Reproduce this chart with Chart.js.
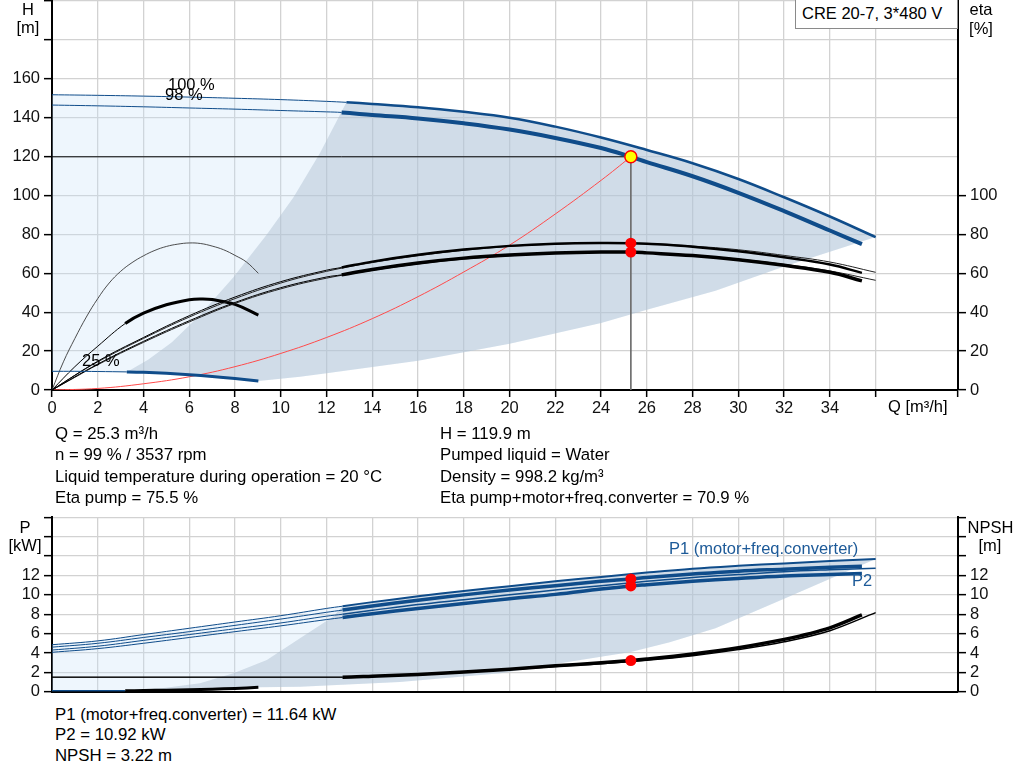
<!DOCTYPE html>
<html lang="en">
<head>
<meta charset="utf-8">
<title>CRE 20-7 pump curves</title>
<script src="https://cdn.jsdelivr.net/npm/chart.js@4.4.1/dist/chart.umd.min.js"></script>
<style>
  html, body { margin: 0; padding: 0; background: #fff; }
  body { width: 1024px; height: 781px; position: relative; overflow: hidden;
         font-family: 'Liberation Sans', Arial, Helvetica, sans-serif; color: #000; }
  canvas { position: absolute; left: 0; }
  #headChart { top: 0; }
  #powerChart { top: 505px; }
  .t { position: absolute; white-space: nowrap; line-height: 1; font-size: 16.5px; }
  .c { transform: translateX(-50%); }
  .blue { color: #1d5a98; }
  .info { position: absolute; font-size: 16.8px; white-space: nowrap; }
  #legend { position: absolute; left: 795px; top: -1px; width: 163px; height: 30px;
            border: 1px solid #8a8a8a; background: #fff; box-sizing: border-box; }
</style>
</head>
<body>
<canvas id="headChart" width="1024" height="420"></canvas>
<canvas id="powerChart" width="1024" height="200"></canvas>

<div id="legend"></div>
<div class="t" style="left:802px; top:5px;">CRE 20-7, 3*480 V</div>

<div class="t c" style="left:28px; top:1px;">H</div>
<div class="t c" style="left:28px; top:19px;">[m]</div>
<div class="t c" style="left:981px; top:1px;">eta</div>
<div class="t c" style="left:981px; top:19.5px;">[%]</div>
<div class="t" style="left:888px; top:398px;">Q [m³/h]</div>
<div class="t" style="left:168px; top:75.5px;">100 %</div>
<div class="t" style="left:165px; top:85.5px;">98 %</div>
<div class="t" style="left:82px; top:352px;">25 %</div>

<div class="info" style="left:55px; top:422.7px; line-height:21.5px;">
  Q = 25.3 m³/h<br>n = 99 % / 3537 rpm<br>Liquid temperature during operation = 20 °C<br>Eta pump = 75.5 %
</div>
<div class="info" style="left:440px; top:422.7px; line-height:21.5px;">
  H = 119.9 m<br>Pumped liquid = Water<br>Density = 998.2 kg/m³<br>Eta pump+motor+freq.converter = 70.9 %
</div>

<div class="t c" style="left:25px; top:518.7px;">P</div>
<div class="t c" style="left:25px; top:537px;">[kW]</div>
<div class="t c" style="left:990.5px; top:518.7px;">NPSH</div>
<div class="t c" style="left:990px; top:537px;">[m]</div>
<div class="t blue" style="left:669px; top:539.5px;">P1 (motor+freq.converter)</div>
<div class="t blue" style="left:852px; top:571.5px;">P2</div>

<div class="info" style="left:55px; top:704.5px; line-height:20.8px;">
  P1 (motor+freq.converter) = 11.64 kW<br>P2 = 10.92 kW<br>NPSH = 3.22 m
</div>

<script>
const Q_MAX = 39.6;
const GRID = '#d2d2d2';
const BLUE = '#0f4c8a';
const LIGHT = 'rgba(200, 225, 250, 0.3)';
const DARK = 'rgba(171, 188, 206, 0.45)';
const FONT_FAMILY = "'Liberation Sans', Arial, Helvetica, sans-serif";

// ---- head chart: H [m] and eta [%] over Q [m³/h] ----
const qhMaxQ = [0, 2, 4, 6, 8, 10, 12, 12.87, 14, 16, 18, 20, 22, 24, 26, 28, 30, 32, 34, 36];
const qhMaxH = [151.8, 151.5, 151.1, 150.6, 150.0, 149.3, 148.4, 147.9, 147.1, 145.4, 143.0, 140.0, 135.4, 129.8, 123.4, 116.6, 108.5, 99.1, 89.2, 78.6];
const qhOpQ = [0, 2, 4, 6, 8, 10, 12, 12.66, 14, 16, 18, 20, 22, 24, 25.3, 26, 28, 30, 32, 34, 35.4];
const qhOpH = [146.5, 146.1, 145.6, 145.0, 144.4, 143.7, 143.0, 142.7, 141.4, 139.6, 137.1, 133.9, 129.6, 124.4, 119.9, 117.2, 109.9, 101.4, 92.0, 82.0, 75.0];
const qhMinQ = [0, 1, 2, 3.27, 4, 5, 6, 7, 8, 9.02];
const qhMinH = [9.6, 9.6, 9.5, 9.3, 9.1, 8.6, 7.9, 7.0, 5.9, 4.6];

// operating-range edges
const minFlowQ = [3.27, 4.2, 5.24, 6.47, 7.93, 9.39, 10.55, 11.72, 12.87];
const minFlowH = [9.3, 15.5, 24.6, 38.5, 58, 80, 99, 122, 147.9];
const maxEdgeQ = [9.02, 10.84, 12, 16, 20, 24, 26, 29, 32, 36];
const maxEdgeH = [4.6, 6.8, 8.6, 15, 23.8, 34.4, 41.2, 51, 63.5, 78.6];

const sysQ = [0, 2, 4, 6, 8, 10, 12, 14, 16, 18, 20, 22, 24, 25.3];
const sysH = [0, 0.8, 3.2, 6.8, 12, 18.8, 27, 36.7, 48, 60.7, 74.5, 90.5, 107.8, 119.9];

const etaMaxQ = [0, 1, 2, 4, 6, 8, 10, 12, 14, 16, 18, 20, 22, 24, 26, 28, 30, 32, 34, 36];
const etaPumpMax = [0, 7.5, 14.5, 26.5, 37.5, 47, 55, 61, 65.5, 69, 71.8, 73.8, 75, 75.6, 75.3, 74, 72.1, 69.2, 65.8, 60.5];
const etaTotalMax = [0, 6.5, 13, 24.5, 35, 44.5, 52, 57.5, 61.5, 64.8, 67.3, 69, 70.2, 70.8, 70.5, 69.3, 67.3, 64.6, 61.2, 56.4];
const etaOpQ = [0, 2, 4, 6, 8, 10, 12, 12.66, 14, 16, 18, 20, 22, 24, 25.3, 26, 28, 30, 32, 34, 35.4];
const etaPumpOp = [0, 14.8, 27, 38.2, 47.8, 55.7, 61.6, 63.0, 66, 69.5, 72.2, 74.1, 75.2, 75.6, 75.5, 75.2, 73.7, 71.3, 68.2, 64.5, 60.2];
const etaTotalOp = [0, 13.3, 25, 35.6, 45, 52.6, 58.1, 59.2, 62, 65.3, 67.8, 69.4, 70.4, 70.9, 70.9, 70.5, 69.1, 67.0, 64.1, 60.5, 56.1];
const eta25Q = [0, 0.5, 1, 1.5, 2, 2.5, 3, 3.5, 4, 4.5, 5, 5.5, 6, 6.5, 7, 7.5, 8, 8.5, 9.02];
const etaPump25 = [0, 14.5, 26.5, 37.5, 47, 55, 61, 65.5, 69, 71.8, 73.8, 75, 75.6, 75.3, 74, 72.1, 69.2, 65.8, 60];
const etaTot25Q = [0, 1, 2, 3.2, 4, 5, 6, 6.5, 7, 8, 9.02];
const etaTotal25 = [0, 12, 22.5, 34.2, 39.5, 43.8, 46.4, 46.8, 46.5, 44, 38.5];

// duty point
const dutyQ = 25.3;
const dutyH = 119.9;
const dutyEta = [75.5, 70.9];

// ---- power chart: P [kW] and NPSH [m] over Q [m³/h] ----
const pMaxQ = [0, 2, 4, 6, 8, 10, 12, 12.7, 14, 16, 18, 20, 22, 24, 26, 28, 30, 32, 34, 36];
const p1Max = [4.85, 5.25, 5.9, 6.55, 7.2, 7.85, 8.6, 8.83, 9.25, 9.85, 10.4, 10.9, 11.4, 11.85, 12.3, 12.7, 13.0, 13.25, 13.5, 13.7];
const p2Max = [4.3, 4.7, 5.3, 5.9, 6.5, 7.1, 7.8, 8.0, 8.4, 9.0, 9.5, 10.0, 10.5, 10.95, 11.4, 11.8, 12.1, 12.4, 12.6, 12.76];
const pOpQ = [0, 2, 4, 6, 8, 10, 12, 12.7, 14, 16, 18, 20, 22, 24, 25.3, 26, 28, 30, 32, 34, 35.4];
const p1Op = [4.6, 5.0, 5.6, 6.2, 6.85, 7.5, 8.2, 8.43, 8.85, 9.45, 10.0, 10.5, 10.95, 11.4, 11.64, 11.8, 12.15, 12.45, 12.65, 12.85, 12.95];
const p2Op = [4.07, 4.45, 5.0, 5.6, 6.2, 6.8, 7.45, 7.66, 8.05, 8.6, 9.1, 9.6, 10.05, 10.6, 10.92, 11.05, 11.4, 11.7, 11.95, 12.1, 12.2];
const p25Q = [0, 1, 2, 3.2, 4, 5, 6, 7, 8, 9.02];
const p25 = [0.1, 0.1, 0.1, 0.1, 0.12, 0.16, 0.2, 0.26, 0.34, 0.45];
const npshMaxQ = [0, 12.9, 14, 16, 18, 20, 22, 24, 26, 28, 30, 32, 34, 36];
const npshMax = [1.5, 1.5, 1.58, 1.75, 2.0, 2.28, 2.6, 2.88, 3.25, 3.72, 4.35, 5.15, 6.3, 8.17];
const npshOpQ = [0, 12.7, 14, 16, 18, 20, 22, 24, 25.3, 26, 28, 30, 32, 34, 35.4];
const npshOp = [1.5, 1.5, 1.6, 1.78, 2.03, 2.33, 2.68, 2.98, 3.22, 3.38, 3.9, 4.55, 5.4, 6.6, 7.93];

const pMinFlowQ = [3.2, 4.8, 6.47, 7.93, 9.39, 10.84, 12.3, 12.7];
const pMinFlow = [0.1, 0.35, 0.87, 1.9, 3.28, 5.52, 7.76, 8.83];
const pEdgeQ = [9.02, 10.84, 15.2, 19.6, 22.2, 25.3, 27, 29, 32, 36];
const pEdge = [0.45, 0.52, 1.0, 1.9, 2.93, 4.1, 5.1, 6.55, 9.6, 13.7];

const dutyP = [11.64, 10.92];
const dutyNpsh = 3.22;

// helpers
function pts(qs, vs) { return qs.map((q, i) => ({ x: q, y: vs[i] })); }
function rev(a) { return a.slice().reverse(); }
function from(a, q0) { return a.filter(p => p.x >= q0); }

function line(qs, vs, color, width, extra) {
  return Object.assign({
    data: pts(qs, vs), borderColor: color, borderWidth: width,
    pointRadius: 0, fill: false, tension: 0.4
  }, extra || {});
}

// thin up to cut, thick after it
function thinThick(qs, vs, color, cut, thick, extra) {
  return line(qs, vs, color, 1, Object.assign({
    segment: { borderWidth: c => (qs[c.p0DataIndex] >= cut ? thick : 1) }
  }, extra || {}));
}

function area(points, color, extra) {
  return Object.assign({
    data: points, borderWidth: 0, pointRadius: 0, fill: 'shape',
    backgroundColor: color, tension: 0
  }, extra || {});
}

function marker(q, v, r, fillColor, borderColor, extra) {
  return Object.assign({
    data: [{ x: q, y: v }], showLine: false, pointRadius: r,
    pointBackgroundColor: fillColor, pointBorderColor: borderColor,
    pointBorderWidth: borderColor ? 1.5 : 0
  }, extra || {});
}

function xAxis(height, labels) {
  return {
    type: 'linear', min: 0, max: Q_MAX,
    ticks: {
      stepSize: 2, autoSkip: false, maxRotation: 0, display: labels, padding: 2, color: '#111',
      font: { family: FONT_FAMILY, size: 16.5 },
      callback: v => (v <= 34 ? v : '')
    },
    grid: { color: GRID, lineWidth: 1.3, drawTicks: labels, tickLength: 7, tickColor: '#000', tickWidth: 1.5 },
    border: { color: '#000', width: 2 },
    afterFit: s => { s.height = height; s.paddingLeft = 0; s.paddingRight = 0; }
  };
}

function yAxis(side, max, step, lastLabel, lastMark) {
  const left = side === 'left';
  return {
    type: 'linear', position: side, min: 0, max: max,
    ticks: {
      stepSize: step, autoSkip: false, padding: 4, color: '#111',
      font: { family: FONT_FAMILY, size: 16.5 },
      callback: v => (v <= lastLabel ? v : '')
    },
    grid: {
      drawOnChartArea: left, color: GRID, lineWidth: 1.3, tickLength: 8, tickWidth: 1.5,
      tickColor: c => (c.tick && c.tick.value > lastMark ? 'rgba(0,0,0,0)' : '#000')
    },
    border: { color: '#000', width: 2 },
    afterFit: s => { s.width = left ? 52 : 66; s.paddingTop = 0; s.paddingBottom = 0; }
  };
}

function options(padTop, xHeight, xLabels, yMax, yStep, yLast, y2Last, y2Mark) {
  return {
    responsive: false,
    animation: false,
    events: [],
    layout: { padding: { top: padTop, left: 0, right: 0, bottom: 0 }, autoPadding: false },
    plugins: { legend: { display: false }, tooltip: { enabled: false } },
    scales: {
      x: xAxis(xHeight, xLabels),
      y: yAxis('left', yMax, yStep, yLast, yMax),
      y2: yAxis('right', yMax, yStep, y2Last, y2Mark)
    }
  };
}

function stackOrder(datasets) {
  datasets.forEach((d, i) => { d.order = datasets.length - i; });
  return datasets;
}

// head chart
const headLight = pts(qhMaxQ, qhMaxH)
  .concat(rev(pts(maxEdgeQ, maxEdgeH)), rev(pts(qhMinQ, qhMinH)));
const headDark = pts(minFlowQ, minFlowH)
  .concat(from(pts(qhMaxQ, qhMaxH), 12.87), rev(pts(maxEdgeQ, maxEdgeH)), rev(from(pts(qhMinQ, qhMinH), 3.27)));

const E = { yAxisID: 'y2' };

new Chart(document.getElementById('headChart'), {
  type: 'line',
  data: {
    datasets: stackOrder([
      area(headLight, LIGHT),
      area(headDark, DARK),
      line([0, dutyQ], [dutyH, dutyH], '#000', 1, { tension: 0 }),
      line([dutyQ, dutyQ], [dutyH, 0], '#6e6e6e', 1, { tension: 0 }),
      line(sysQ, sysH, '#ff4a4a', 1),
      line(eta25Q, etaPump25, '#3a3a3a', 0.9, E),
      thinThick(etaTot25Q, etaTotal25, '#000', 3.2, 3, E),
      line(etaMaxQ, etaPumpMax, '#222', 1, E),
      line(etaMaxQ, etaTotalMax, '#222', 1, E),
      thinThick(etaOpQ, etaPumpOp, '#000', 12.66, 2.5, E),
      thinThick(etaOpQ, etaTotalOp, '#000', 12.66, 3.5, E),
      thinThick(qhMinQ, qhMinH, BLUE, 3.27, 3),
      thinThick(qhMaxQ, qhMaxH, BLUE, 12.87, 2.5),
      thinThick(qhOpQ, qhOpH, BLUE, 12.66, 4),
      marker(dutyQ, dutyEta[0], 5.5, '#ff0000', null, E),
      marker(dutyQ, dutyEta[1], 5.5, '#ff0000', null, E),
      marker(dutyQ, dutyH, 6, '#ffff00', '#ff0000')
    ])
  },
  options: options(1, 30, true, 200, 20, 160, 100, 100)
});

// power chart
const powerLight = pts(pMaxQ, p1Max)
  .concat(rev(pts(pEdgeQ, pEdge)), rev(pts(p25Q, p25)));
const powerDark = pts(pMinFlowQ, pMinFlow)
  .concat(from(pts(pMaxQ, p1Max), 12.7), rev(pts(pEdgeQ, pEdge)), rev(from(pts(p25Q, p25), 3.2)));

new Chart(document.getElementById('powerChart'), {
  type: 'line',
  data: {
    datasets: stackOrder([
      area(powerLight, LIGHT),
      area(powerDark, DARK),
      thinThick(pMaxQ, p2Max, BLUE, 12.7, 1.5),
      thinThick(pOpQ, p2Op, BLUE, 12.7, 3.5),
      thinThick(pMaxQ, p1Max, BLUE, 12.7, 2),
      thinThick(pOpQ, p1Op, BLUE, 12.7, 3.5),
      thinThick(npshMaxQ, npshMax, '#000', 12.9, 1.5, Object.assign({ cubicInterpolationMode: 'monotone' }, E)),
      thinThick(npshOpQ, npshOp, '#000', 12.7, 3.5, Object.assign({ cubicInterpolationMode: 'monotone' }, E)),
      line(p25Q, p25, BLUE, 1.5, Object.assign({
        segment: {
          borderColor: c => (p25Q[c.p0DataIndex] >= 3.2 ? '#000' : BLUE),
          borderWidth: c => (p25Q[c.p0DataIndex] >= 3.2 ? 3 : 1.5)
        }
      }, E)),
      marker(dutyQ, dutyP[0], 5.5, '#ff0000', null),
      marker(dutyQ, dutyP[1], 5.5, '#ff0000', null),
      marker(dutyQ, dutyNpsh, 5.5, '#ff0000', null, E)
    ])
  },
  options: options(12.4, 13.3, false, 18, 2, 12, 12, 18)
});
</script>
</body>
</html>
